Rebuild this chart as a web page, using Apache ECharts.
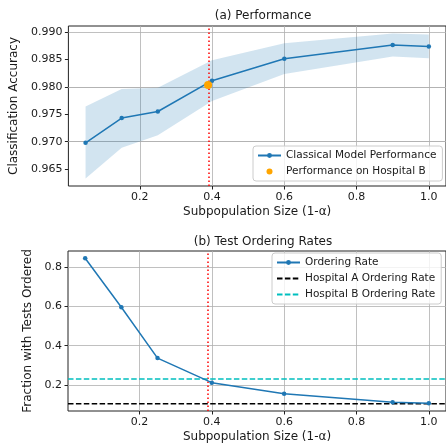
<!DOCTYPE html>
<html lang="en">
<head>
    <meta charset="UTF-8">
    <title>Performance and Test Ordering Rates</title>
    <script src="https://cdn.jsdelivr.net/npm/echarts@6/dist/echarts.min.js"></script>
    <style>
        html, body { margin: 0; padding: 0; background: #fff; }
        #chart { width: 446px; height: 446px; }
    </style>
</head>
<body>
<div id="chart"></div>
<script type="text/javascript">
// subpopulation sizes (1-alpha)
var xVals = [0.05, 0.15, 0.25, 0.4, 0.6, 0.9, 1.0];
// (a) accuracy, mean and band
var accMean = [0.9698, 0.9743, 0.9755, 0.9811, 0.9851, 0.9876, 0.9873];
var accLow  = [0.9633, 0.9689, 0.9712, 0.9774, 0.9823, 0.9855, 0.9852];
var accHigh = [0.9764, 0.9796, 0.9798, 0.9848, 0.9879, 0.9897, 0.9895];
var hospBPoint = [0.389, 0.9803];
var cutoff = 0.39;
// (b) ordering rates
var orderRate = [0.844, 0.595, 0.337, 0.212, 0.156, 0.112, 0.107];
var hospARate = 0.105;
var hospBRate = 0.2305;
// ticks
var xTicks = [0.2, 0.4, 0.6, 0.8, 1.0];
var accTicks = [0.965, 0.970, 0.975, 0.980, 0.985, 0.990];
var rateTicks = [0.2, 0.4, 0.6, 0.8];

var xMin = 0.0025, xMax = 1.0475;
var accMin = 0.96195, accMax = 0.99105;
var rateMin = 0.068, rateMax = 0.881;

var font = 'DejaVu Sans';
var blue = '#1f77b4';

function pairs(xs, ys) {
    return xs.map(function (x, i) { return [x, ys[i]]; });
}
var bandRows = xVals.map(function (x, i) { return [x, accLow[i], accHigh[i]]; });

function xAxisDef(idx) {
    return {
        type: 'value', gridIndex: idx, min: xMin, max: xMax,
        name: 'Subpopulation Size (1-α)', nameLocation: 'middle', nameGap: 20,
        nameTextStyle: { fontFamily: font, fontSize: 12, color: '#1a1a1a' },
        axisLine: { show: false },
        axisTick: { show: true, length: 3.5, lineStyle: { color: '#222' }, customValues: xTicks },
        axisLabel: { fontFamily: font, fontSize: 11, color: '#1a1a1a', margin: 6,
            customValues: xTicks, formatter: function (v) { return v.toFixed(1); } },
        splitLine: { show: false }
    };
}
function yAxisDef(idx, min, max, ticks, name, gap, dec) {
    return {
        type: 'value', gridIndex: idx, min: min, max: max,
        name: name, nameLocation: 'middle', nameGap: gap,
        nameTextStyle: { fontFamily: font, fontSize: 12, color: '#1a1a1a' },
        axisLine: { show: false },
        axisTick: { show: true, length: 3.5, lineStyle: { color: '#222' }, customValues: ticks },
        axisLabel: { fontFamily: font, fontSize: 11, color: '#1a1a1a', margin: 6,
            customValues: ticks, formatter: function (v) { return v.toFixed(dec); } },
        splitLine: { show: false }
    };
}

// grid lines drawn as mark lines at tick values
var gridStyle = { color: '#b0b0b0', width: 0.8, type: 'solid' };
function gridLines(yTicks) {
    var d = [];
    xTicks.forEach(function (t) { d.push({ xAxis: t }); });
    yTicks.forEach(function (t) { d.push({ yAxis: t }); });
    return { silent: true, symbol: 'none', label: { show: false }, lineStyle: gridStyle, data: d, animation: false, z: 1 };
}
function cutoffLine() {
    return { silent: true, symbol: 'none', label: { show: false },
        lineStyle: { color: 'red', width: 1.5, type: [1.5, 2.5] },
        data: [{ xAxis: cutoff }], animation: false, z: 2 };
}

var legendBase = {
    orient: 'vertical', itemWidth: 23, itemHeight: 6, itemGap: 5,
    backgroundColor: 'rgba(255,255,255,0.8)', borderColor: '#cccccc', borderWidth: 1, borderRadius: 3,
    padding: [4, 6, 4, 4],
    textStyle: { fontFamily: font, fontSize: 10.5, color: '#1a1a1a' }
};

var option = {
    animation: false,
    backgroundColor: '#fff',
    title: [
        { text: '(a) Performance', left: 258, top: 5, textAlign: 'center',
          textStyle: { fontFamily: font, fontSize: 12, fontWeight: 'normal', color: '#1a1a1a' } },
        { text: '(b) Test Ordering Rates', left: 258, top: 231, textAlign: 'center',
          textStyle: { fontFamily: font, fontSize: 12, fontWeight: 'normal', color: '#1a1a1a' } }
    ],
    legend: [
        Object.assign({}, legendBase, { left: 253, top: 146, data: ['Classical Model Performance', 'Performance on Hospital B'] }),
        Object.assign({}, legendBase, { left: 272, top: 253, data: [
            'Ordering Rate',
            { name: 'Hospital A Ordering Rate', itemStyle: { opacity: 0 } },
            { name: 'Hospital B Ordering Rate', itemStyle: { opacity: 0 } }
        ] })
    ],
    grid: [
        { left: 68, top: 26, width: 382, height: 160, show: true, borderColor: '#222', borderWidth: 1, backgroundColor: 'transparent' },
        { left: 68, top: 251, width: 382, height: 160, show: true, borderColor: '#222', borderWidth: 1, backgroundColor: 'transparent' }
    ],
    xAxis: [xAxisDef(0), xAxisDef(1)],
    yAxis: [
        yAxisDef(0, accMin, accMax, accTicks, 'Classification Accuracy', 39, 3),
        yAxisDef(1, rateMin, rateMax, rateTicks, 'Fraction with Tests Ordered', 26, 1)
    ],
    series: [
        // shaded band between low and high accuracy
        { type: 'custom', xAxisIndex: 0, yAxisIndex: 0, data: bandRows, silent: true, z: 1,
          encode: { x: 0, y: [1, 2] },
          renderItem: function (params, api) {
              if (params.dataIndex !== 0) return;
              var pts = [];
              for (var i = 0; i < bandRows.length; i++) pts.push(api.coord([bandRows[i][0], bandRows[i][2]]));
              for (var j = bandRows.length - 1; j >= 0; j--) pts.push(api.coord([bandRows[j][0], bandRows[j][1]]));
              return { type: 'polygon', shape: { points: pts }, style: { fill: blue, opacity: 0.2 } };
          },
          markLine: gridLines(accTicks) },
        { type: 'line', xAxisIndex: 0, yAxisIndex: 0, data: [], z: 2, markLine: cutoffLine() },
        { name: 'Classical Model Performance', type: 'line', xAxisIndex: 0, yAxisIndex: 0,
          data: pairs(xVals, accMean), symbol: 'circle', symbolSize: 4.5, z: 3,
          itemStyle: { color: blue }, lineStyle: { color: blue, width: 1.5 } },
        { name: 'Performance on Hospital B', type: 'scatter', xAxisIndex: 0, yAxisIndex: 0,
          data: [hospBPoint], symbolSize: 8, z: 5, itemStyle: { color: '#ffa500', opacity: 1 } },

        { name: 'Ordering Rate', type: 'line', xAxisIndex: 1, yAxisIndex: 1,
          data: pairs(xVals, orderRate), symbol: 'circle', symbolSize: 4.5, z: 3,
          itemStyle: { color: blue }, lineStyle: { color: blue, width: 1.5 },
          markLine: gridLines(rateTicks) },
        { name: 'Hospital A Ordering Rate', type: 'line', xAxisIndex: 1, yAxisIndex: 1,
          data: [[xMin, hospARate], [xMax, hospARate]], showSymbol: false, symbol: 'none', z: 2,
          itemStyle: { color: '#000' }, lineStyle: { color: '#000', width: 1.5, type: [5.5, 2.4] } },
        { name: 'Hospital B Ordering Rate', type: 'line', xAxisIndex: 1, yAxisIndex: 1,
          data: [[xMin, hospBRate], [xMax, hospBRate]], showSymbol: false, symbol: 'none', z: 2,
          itemStyle: { color: '#00bfbf' }, lineStyle: { color: '#00bfbf', width: 1.5, type: [5.5, 2.4] },
          markLine: cutoffLine() }
    ]
};

var myChart = echarts.init(document.getElementById('chart'));
myChart.setOption(option);
</script>
</body>
</html>
